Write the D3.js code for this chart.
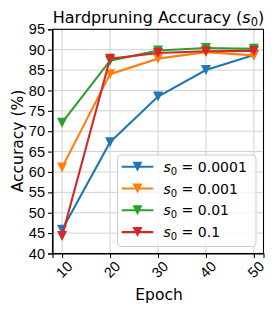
<!DOCTYPE html>
<html>
<head>
<meta charset="utf-8">
<script src="https://cdn.jsdelivr.net/npm/d3@7"></script>
<style>
  body { margin: 0; background: #fff; }
  svg { display: block; font-family: "DejaVu Sans", sans-serif; }
</style>
</head>
<body>
<div class="chart"></div>
<script>
// data
const epochs = [10, 20, 30, 40, 50];
const seriesNames = ['0.0001', '0.001', '0.01', '0.1'];
const acc0001 = [45.8, 67.3, 78.5, 85.0, 88.7];
const acc001 = [61.1, 84.0, 87.8, 89.4, 88.6];
const acc01 = [72.1, 87.3, 89.8, 90.4, 90.2];
const acc1 = [44.3, 87.8, 89.2, 89.6, 89.7];
const yTicks = [40, 45, 50, 55, 60, 65, 70, 75, 80, 85, 90, 95];
const colors = ['#1f77b4', '#ff7f0e', '#2ca02c', '#d62728'];

const allSeries = [acc0001, acc001, acc01, acc1];

const width = 277;
const height = 312;

const svg = d3.select('.chart').append('svg')
    .attr('width', width)
    .attr('height', height);

const x = d3.scaleLinear().domain([8, 52]).range([52.5, 263.5]);
const y = d3.scaleLinear().domain([40, 95]).range([253.5, 29.3]);

// grid
svg.append('g')
    .selectAll('line.gx')
    .data(epochs)
    .enter().append('line')
    .attr('x1', d => x(d)).attr('x2', d => x(d))
    .attr('y1', y(40)).attr('y2', y(95))
    .attr('stroke', '#d0d0d0').attr('stroke-width', 1);
svg.append('g')
    .selectAll('line.gy')
    .data(yTicks)
    .enter().append('line')
    .attr('x1', x(8)).attr('x2', x(52))
    .attr('y1', d => y(d)).attr('y2', d => y(d))
    .attr('stroke', '#d0d0d0').attr('stroke-width', 1);

// axes
const yAxis = svg.append('g')
    .attr('transform', `translate(${x(8)},0)`)
    .call(d3.axisLeft(y).tickValues(yTicks).tickSize(4.5).tickPadding(3));
yAxis.selectAll('text').style('font-size', '14.5px').attr('fill', '#000');

const xAxis = svg.append('g')
    .attr('transform', `translate(0,${y(40)})`)
    .call(d3.axisBottom(x).tickValues(epochs).tickSize(4.5).tickFormat(d3.format('d')));
xAxis.selectAll('text')
    .style('font-size', '14.5px')
    .attr('fill', '#000')
    .attr('y', null).attr('dy', null)
    .attr('text-anchor', 'middle')
    .attr('dominant-baseline', 'central')
    .attr('transform', 'translate(1.5,16) rotate(-45)');
svg.selectAll('.domain').attr('stroke', '#000').attr('stroke-width', 1.1);
svg.selectAll('.tick line').attr('stroke', '#000').attr('stroke-width', 1.1);

// frame top/right
svg.append('rect')
    .attr('x', x(8)).attr('y', y(95))
    .attr('width', x(52) - x(8)).attr('height', y(40) - y(95))
    .attr('fill', 'none').attr('stroke', '#000').attr('stroke-width', 1.1);

// lines + markers (matplotlib 'v' marker: width = height = ms)
const line = d3.line().x((d, i) => x(epochs[i])).y(d => y(d));
const ms = 10;
const tri = `M${-ms / 2},${-ms / 2}L${ms / 2},${-ms / 2}L0,${ms / 2}Z`;

allSeries.forEach((vals, k) => {
    svg.append('path')
        .datum(vals)
        .attr('d', line)
        .attr('fill', 'none')
        .attr('stroke', colors[k])
        .attr('stroke-width', 2.1);
    svg.append('g')
        .selectAll('path')
        .data(vals)
        .enter().append('path')
        .attr('d', tri)
        .attr('transform', (d, i) => `translate(${x(epochs[i])},${y(d)})`)
        .attr('fill', colors[k]);
});

// legend
const legend = svg.append('g');
legend.append('rect')
    .attr('x', 117.5).attr('y', 155)
    .attr('width', 138.5).attr('height', 91.5)
    .attr('rx', 3.5)
    .attr('fill', '#fff').attr('fill-opacity', 0.8)
    .attr('stroke', '#cccccc').attr('stroke-width', 1);
seriesNames.forEach((name, i) => {
    const ly = 166.7 + i * 21.8;
    legend.append('line')
        .attr('x1', 121.7).attr('x2', 153.3)
        .attr('y1', ly).attr('y2', ly)
        .attr('stroke', colors[i]).attr('stroke-width', 2.1);
    legend.append('path')
        .attr('d', tri)
        .attr('transform', `translate(137.5,${ly})`)
        .attr('fill', colors[i]);
    const t = legend.append('text')
        .attr('x', 163.5).attr('y', ly + 5)
        .style('font-size', '14px');
    t.append('tspan').attr('font-style', 'italic').text('s');
    t.append('tspan').attr('dy', 3).style('font-size', '10px').text('0');
    t.append('tspan').attr('dy', -3).text(' = ' + name);
});

// title
const title = svg.append('text')
    .attr('x', 158.5).attr('y', 22.5)
    .attr('text-anchor', 'middle')
    .style('font-size', '16px');
title.append('tspan').text('Hardpruning Accuracy (');
title.append('tspan').attr('font-style', 'italic').text('s');
title.append('tspan').attr('dy', 3.5).style('font-size', '11.5px').text('0');
title.append('tspan').attr('dy', -3.5).text(')');

// axis labels
svg.append('text')
    .attr('transform', `translate(23,141) rotate(-90)`)
    .attr('text-anchor', 'middle')
    .style('font-size', '15.5px')
    .text('Accuracy (%)');
svg.append('text')
    .attr('x', 159).attr('y', 300)
    .attr('text-anchor', 'middle')
    .style('font-size', '15.5px')
    .text('Epoch');
</script>
</body>
</html>
